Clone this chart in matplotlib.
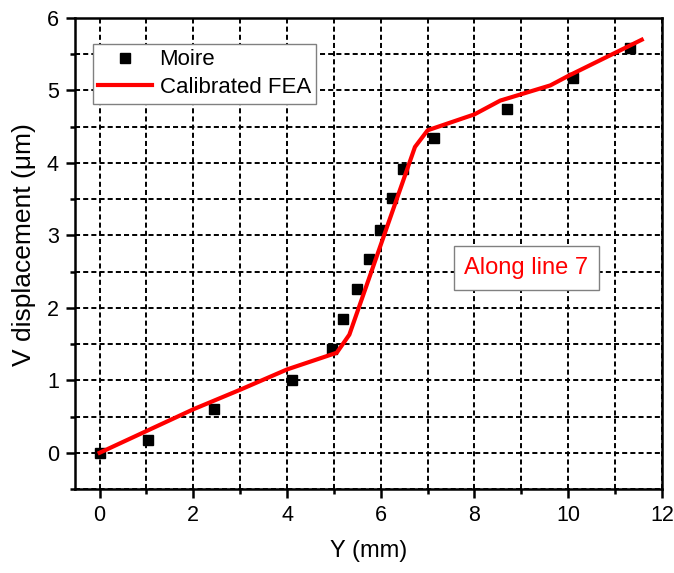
import matplotlib
matplotlib.use("Agg")
import matplotlib.pyplot as plt
from matplotlib.ticker import MultipleLocator

plt.rcParams['font.family'] = ['Liberation Sans', 'DejaVu Sans']

moire_x = [0.0, 1.03, 2.44, 4.10, 4.95, 5.19, 5.49, 5.74, 5.98, 6.23, 6.47, 7.14, 8.69, 10.10, 11.32]
moire_y = [0.0, 0.17, 0.60, 1.01, 1.43, 1.84, 2.26, 2.67, 3.08, 3.51, 3.92, 4.35, 4.75, 5.17, 5.58]

fea_x = [0.0, 1.0, 2.0, 3.0, 4.0, 5.06, 5.33, 6.73, 7.0, 8.0, 8.55, 9.62, 10.0, 11.57]
fea_y = [0.0, 0.30, 0.60, 0.87, 1.15, 1.38, 1.63, 4.22, 4.45, 4.67, 4.86, 5.07, 5.20, 5.70]

fig = plt.figure(figsize=(6.74, 5.73), dpi=100)
ax = fig.add_axes([0.111, 0.1466, 0.871, 0.822])

ax.plot(moire_x, moire_y, 's', color='black', markersize=7, label='Moire', zorder=3)
ax.plot(fea_x, fea_y, '-', color='#ff0000', linewidth=3, label='Calibrated FEA', zorder=4)

ax.set_xlim(-0.53, 12)
ax.set_ylim(-0.5, 6)
ax.xaxis.set_major_locator(MultipleLocator(2))
ax.xaxis.set_minor_locator(MultipleLocator(1))
ax.yaxis.set_major_locator(MultipleLocator(1))
ax.yaxis.set_minor_locator(MultipleLocator(0.5))

ax.grid(True, which='both', color='black', linestyle=(0, (2.6, 1.6)), linewidth=1.4)
ax.set_axisbelow(True)

for s in ax.spines.values():
    s.set_linewidth(1.8)
ax.tick_params(which='major', direction='out', length=6.5, width=1.8, labelsize=15.5, pad=5)
ax.tick_params(which='minor', direction='out', length=3.5, width=1.8)

ax.set_xlabel('Y (mm)', fontsize=17, labelpad=10)
ax.set_ylabel('V displacement (\u03bcm)', fontsize=19, labelpad=8)
ax.yaxis.label.set_y(0.52)

leg = ax.legend(loc='upper left', bbox_to_anchor=(0.0307, 0.945), fontsize=16, frameon=True,
                fancybox=False, edgecolor='#808080', framealpha=1, handlelength=2.4,
                borderpad=0.25, labelspacing=0.3, handletextpad=0.35, borderaxespad=0)
leg.get_frame().set_linewidth(1.0)

ax.text(9.11, 2.55, 'Along line 7', color='#ff0000', fontsize=17, ha='center', va='center',
        bbox=dict(boxstyle='square,pad=0.45', facecolor='white', edgecolor='#808080', linewidth=1.0))

fig.savefig('out.png', dpi=100)
